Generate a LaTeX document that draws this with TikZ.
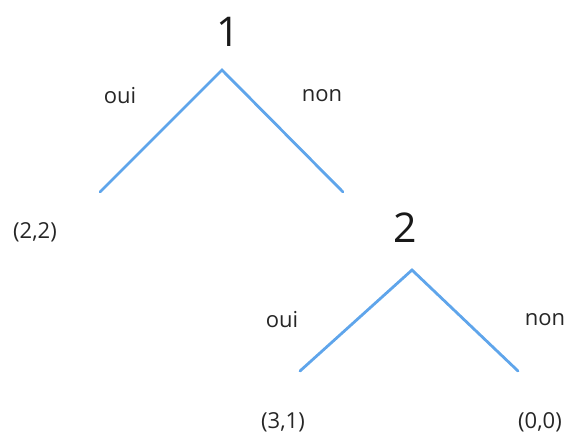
\documentclass[tikz,border=0pt]{standalone}
\usepackage{fontspec}
\setmainfont{Open Sans}
\definecolor{branch}{RGB}{95,165,235}
\tikzset{
  edge/.style={draw=branch, line width=2.8pt, line cap=round},
  lbl/.style={font=\fontsize{22}{26}\selectfont, text=black!85, inner sep=0pt},
  pay/.style={font=\fontsize{22}{26}\selectfont, text=black!85, inner sep=0pt},
  player/.style={font=\fontsize{41}{46}\selectfont, text=black!90, inner sep=0pt}
}
\begin{document}
\begin{tikzpicture}[x=1pt,y=-1pt]
\useasboundingbox (0,0) rectangle (573,436);
% decision 1
\node[player] (p1) at (228,32) {1};
\coordinate (a1) at (222,70);
\coordinate (l1) at (100,192);
\coordinate (r1) at (343,192);
\draw[edge] (l1) -- (a1) -- (r1);
\node[lbl] (oui1) at (120,96) {oui};
\node[lbl] (non1) at (322,96) {non};
\node[pay] (o22) at (35,232) {(2,2)};
% decision 2
\node[player] (p2) at (405,228) {2};
\coordinate (a2) at (412,270);
\coordinate (l2) at (300,371);
\coordinate (r2) at (518,371);
\draw[edge] (l2) -- (a2) -- (r2);
\node[lbl] (oui2) at (282,320) {oui};
\node[lbl] (non2) at (545,320) {non};
\node[pay] (o31) at (283,422) {(3,1)};
\node[pay] (o00) at (540,422) {(0,0)};
\end{tikzpicture}
\end{document}
